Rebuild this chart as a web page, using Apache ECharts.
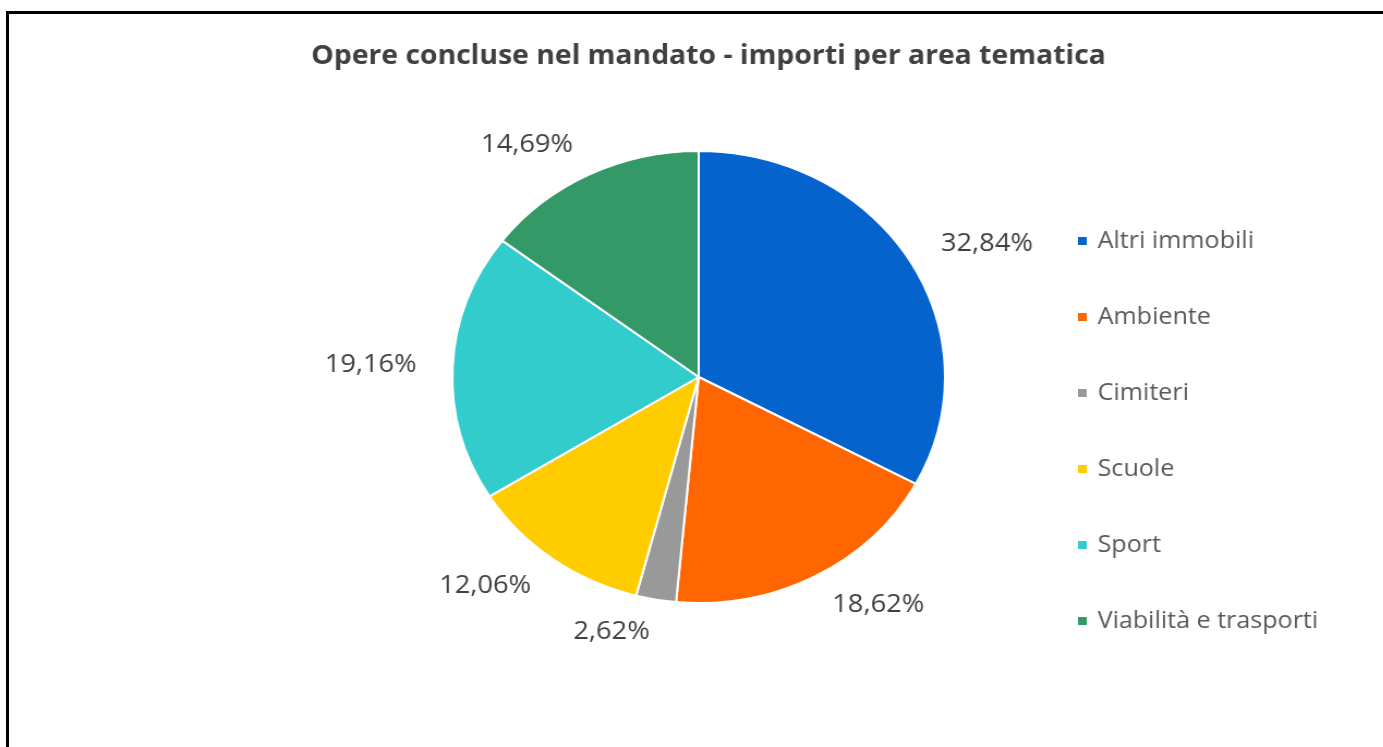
<!DOCTYPE html>
<html>
<head>
<meta charset="utf-8">
<title>Opere concluse nel mandato</title>
<script src="https://cdn.jsdelivr.net/npm/echarts@6/dist/echarts.min.js"></script>
<style>
  html, body { margin: 0; padding: 0; background: #fff; overflow: hidden; }
  body { width: 1383px; height: 747px; position: relative; }
  /* the original picture is a bit wider than tall, so the chart is stretched in x */
  #chart {
    position: absolute; left: 0; top: 0;
    width: 1269px; height: 747px;
    transform: scaleX(1.09); transform-origin: 0 0;
  }
  #frame {
    position: absolute; left: 6px; top: 11px;
    width: 2000px; height: 2000px;
    border-left: 3px solid #000; border-top: 3px solid #000;
    pointer-events: none;
  }
</style>
</head>
<body>
<div id="chart"></div>
<div id="frame"></div>
<script>
// dati
const titolo = 'Opere concluse nel mandato - importi per area tematica';
const aree = ['Altri immobili', 'Ambiente', 'Cimiteri', 'Scuole', 'Sport', 'Viabilità e trasporti'];
const percentuali = [32.84, 18.62, 2.62, 12.06, 19.16, 14.69];
const colori = ['#0563CE', '#FF6600', '#999999', '#FFCC00', '#33CCCC', '#339966'];

const font = '"Open Sans", sans-serif';

const chart = echarts.init(document.getElementById('chart'));

const option = {
  animation: false,
  color: colori,
  title: {
    text: titolo,
    left: 650,
    textAlign: 'center',
    top: 44,
    padding: 0,
    textStyle: {
      fontFamily: font,
      fontSize: 26,
      fontWeight: 'bold',
      color: '#404040'
    }
  },
  legend: {
    orient: 'vertical',
    left: 982,
    top: 224,
    icon: 'rect',
    itemWidth: 10,
    itemHeight: 10,
    itemGap: 52,
    data: aree,
    textStyle: {
      fontFamily: font,
      fontSize: 23,
      lineHeight: 24,
      color: '#595959',
      padding: [0, 0, 0, 4]
    }
  },
  series: [
    {
      type: 'pie',
      center: [641, 377],
      radius: 226,
      startAngle: 90,
      clockwise: true,
      avoidLabelOverlap: false,
      itemStyle: {
        borderColor: '#fff',
        borderWidth: 2
      },
      label: {
        show: true,
        position: 'outside',
        distanceToLabelLine: 0,
        fontFamily: font,
        fontSize: 25,
        color: '#404040',
        formatter: (p) => p.value.toFixed(2).replace('.', ',') + '%'
      },
      labelLine: {
        show: false,
        length: 33,
        length2: 0
      },
      emphasis: { disabled: true },
      data: aree.map((nome, i) => ({ name: nome, value: percentuali[i] }))
    }
  ]
};

chart.setOption(option);
</script>
</body>
</html>
